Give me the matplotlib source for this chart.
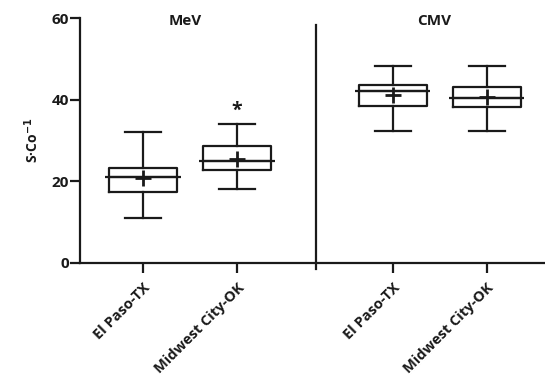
import numpy as np
import matplotlib
matplotlib.use('Agg')
import matplotlib.pyplot as plt

plt.rcParams['font.family'] = ['Open Sans', 'DejaVu Sans']

# Datos
grupos = ['MeV', 'CMV']
sitios = ['El Paso-TX', 'Midwest City-OK', 'El Paso-TX', 'Midwest City-OK']
w_min = [11.0, 18.0, 32.3, 32.3]
q1 = [17.5, 22.9, 38.5, 38.1]
mediana = [21.0, 25.0, 42.2, 40.4]
q3 = [23.3, 28.7, 43.6, 43.1]
w_max = [32.2, 34.1, 48.2, 48.2]
media = [20.7, 25.4, 41.2, 40.6]
posiciones = [0, 1, 2.66, 3.66]
asterisco = [(1, 37.3)]

fig = plt.figure(figsize=(5.45, 3.85), dpi=100)
ax = fig.add_axes([0.147, 0.317, 0.853, 0.636])

stats = []
for i in range(len(sitios)):
    stats.append({'whislo': w_min[i], 'q1': q1[i], 'med': mediana[i],
                  'q3': q3[i], 'whishi': w_max[i], 'mean': media[i],
                  'fliers': []})

lw = 1.6
col = '#1a1a1a'
ax.bxp(stats, positions=posiciones, widths=0.72, showmeans=True,
       showfliers=False,
       boxprops=dict(color=col, linewidth=lw),
       whiskerprops=dict(color=col, linewidth=lw),
       capprops=dict(color=col, linewidth=lw),
       medianprops=dict(color=col, linewidth=lw),
       meanprops=dict(marker='+', markersize=11, markeredgewidth=2.0,
                      markeredgecolor=col),
       capwidths=0.38)

# median line sticks out a bit from the box
for p, m in zip(posiciones, mediana):
    ax.hlines(m, p - 0.4, p + 0.4, color=col, linewidth=lw, zorder=3)

for x, y in asterisco:
    ax.text(x, y, '*', ha='center', va='center', fontsize=14,
            fontweight='bold', color=col)

# divider between panels
ax.plot([1.84, 1.84], [-1.6, 58.2], color=col, linewidth=lw, clip_on=False)

ax.text(0.45, 59.2, grupos[0], ha='center', va='center', fontsize=11,
        fontweight='bold', color=col)
ax.text(3.1, 59.2, grupos[1], ha='center', va='center', fontsize=11,
        fontweight='bold', color=col)

ax.set_xlim(-0.67, 4.28)
ax.set_ylim(0, 60)
ax.set_yticks([0, 20, 40, 60])
ax.set_xticks(posiciones)
ax.set_xticklabels(sitios, rotation=45, ha='right', rotation_mode='anchor',
                   fontsize=10.5, fontweight='bold')
for lab in ax.get_yticklabels():
    lab.set_fontweight('bold')
    lab.set_fontsize(11)
ax.tick_params(axis='both', length=7, width=lw, color=col, labelcolor=col)
ax.tick_params(axis='y', pad=1)
ax.tick_params(axis='x', pad=6)
ax.set_ylabel('S·Co$^{\\mathbf{-1}}$', fontsize=10, fontweight='bold',
              color=col, labelpad=8)

for s in ['top', 'right']:
    ax.spines[s].set_visible(False)
for s in ['left', 'bottom']:
    ax.spines[s].set_linewidth(lw)
    ax.spines[s].set_color(col)

fig.savefig('out.png', dpi=100)
